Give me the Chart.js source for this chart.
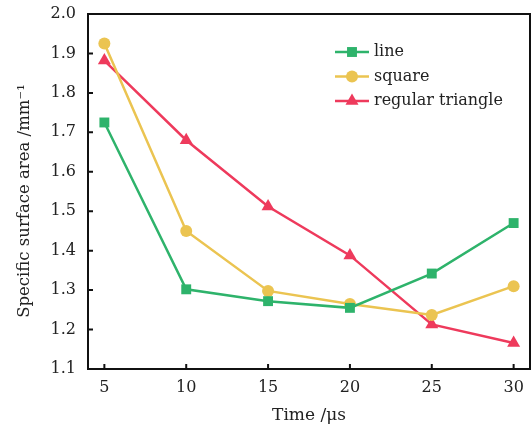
<!DOCTYPE html>
<html>
<head>
<meta charset="utf-8">
<script src="https://cdn.jsdelivr.net/npm/chart.js@4.4.0/dist/chart.umd.min.js"></script>
<style>
    html, body { margin: 0; padding: 0; background: #fff; }
    #wrap { width: 532px; height: 426px; }
</style>
</head>
<body>
<div id="wrap"><canvas id="areaChart" width="532" height="426"></canvas></div>
<script>
// --- Data ---
const times = [5, 10, 15, 20, 25, 30];
const lineValues = [1.725, 1.302, 1.272, 1.255, 1.342, 1.470];
const squareValues = [1.925, 1.450, 1.298, 1.265, 1.237, 1.310];
const triangleValues = [1.882, 1.680, 1.512, 1.388, 1.213, 1.166];
const seriesNames = ['line', 'square', 'regular triangle'];
const yTicks = [1.1, 1.2, 1.3, 1.4, 1.5, 1.6, 1.7, 1.8, 1.9, 2.0];
const yTitle = 'Specific surface area /mm⁻¹';

const GREEN = '#2eb36b';
const YELLOW = '#ebc451';
const RED = '#ee3a5c';
const FONT = "'DejaVu Serif', 'Liberation Serif', serif";

const toPoints = (vals) => times.map((t, i) => ({ x: t, y: vals[i] }));

// box + inward ticks + y title + legend inside chart area
const framePlugin = {
    id: 'frame',
    afterDraw: (chart) => {
        const { ctx, chartArea: a, scales } = chart;
        ctx.save();
        ctx.strokeStyle = '#111';
        ctx.lineWidth = 2;
        ctx.strokeRect(a.left, a.top, a.right - a.left, a.bottom - a.top);

        // ticks pointing into the plot
        ctx.beginPath();
        times.forEach(t => {
            const px = scales.x.getPixelForValue(t);
            ctx.moveTo(px, a.bottom);
            ctx.lineTo(px, a.bottom - 5);
        });
        yTicks.forEach(v => {
            const py = scales.y.getPixelForValue(v);
            ctx.moveTo(a.left, py);
            ctx.lineTo(a.left + 5, py);
        });
        ctx.stroke();

        // y title, sits a bit below the plot centre in the original
        ctx.save();
        ctx.translate(25, 201);
        ctx.rotate(-Math.PI / 2);
        ctx.fillStyle = '#222';
        ctx.font = '16.5px ' + FONT;
        ctx.textAlign = 'center';
        ctx.textBaseline = 'middle';
        ctx.fillText(yTitle, 0, 0);
        ctx.restore();

        // legend
        const lx = 335, ly = 52, gap = 24.5;
        chart.data.datasets.forEach((ds, i) => {
            const y = ly + i * gap;
            ctx.strokeStyle = ds.borderColor;
            ctx.lineWidth = 2.5;
            ctx.beginPath();
            ctx.moveTo(lx, y);
            ctx.lineTo(lx + 34, y);
            ctx.stroke();
            ctx.fillStyle = ds.backgroundColor;
            Chart.helpers.drawPoint(ctx, {
                pointStyle: ds.pointStyle,
                radius: ds.pointRadius,
                borderWidth: 0
            }, lx + 17, y);
            ctx.fillStyle = '#222';
            ctx.font = '16px ' + FONT;
            ctx.textAlign = 'left';
            ctx.textBaseline = 'middle';
            ctx.fillText(ds.label, lx + 39, y);
        });
        ctx.restore();
    }
};

new Chart(document.getElementById('areaChart'), {
    type: 'line',
    data: {
        datasets: [
            {
                label: seriesNames[0],
                data: toPoints(lineValues),
                borderColor: GREEN,
                backgroundColor: GREEN,
                pointStyle: 'rect',
                pointRadius: 7,
                pointBorderWidth: 0,
                borderWidth: 2.5
            },
            {
                label: seriesNames[1],
                data: toPoints(squareValues),
                borderColor: YELLOW,
                backgroundColor: YELLOW,
                pointStyle: 'circle',
                pointRadius: 6,
                pointBorderWidth: 0,
                borderWidth: 2.5
            },
            {
                label: seriesNames[2],
                data: toPoints(triangleValues),
                borderColor: RED,
                backgroundColor: RED,
                pointStyle: 'triangle',
                pointRadius: 7.5,
                pointBorderWidth: 0,
                borderWidth: 2.5
            }
        ]
    },
    plugins: [framePlugin],
    options: {
        responsive: false,
        animation: false,
        layout: { autoPadding: false, padding: { top: 14, right: 2, left: 0, bottom: 0 } },
        plugins: {
            legend: { display: false },
            tooltip: { enabled: false }
        },
        scales: {
            x: {
                type: 'linear',
                min: 4,
                max: 31,
                afterFit: (scale) => {
                    scale.height = 57;
                    scale.paddingLeft = 0;
                    scale.paddingRight = 0;
                },
                afterBuildTicks: (scale) => { scale.ticks = times.map(v => ({ value: v })); },
                grid: { display: false, drawTicks: false },
                border: { display: false },
                ticks: {
                    color: '#222',
                    font: { family: FONT, size: 16 },
                    padding: 9,
                    maxRotation: 0
                },
                title: {
                    display: true,
                    text: 'Time /μs',
                    color: '#222',
                    font: { family: FONT, size: 17 },
                    padding: { top: 1, bottom: 0 }
                }
            },
            y: {
                min: 1.1,
                max: 2.0,
                afterFit: (scale) => {
                    scale.width = 88;
                    scale.paddingTop = 0;
                    scale.paddingBottom = 0;
                },
                afterBuildTicks: (scale) => { scale.ticks = yTicks.map(v => ({ value: v })); },
                grid: { display: false, drawTicks: false },
                border: { display: false },
                ticks: {
                    color: '#222',
                    font: { family: FONT, size: 16 },
                    padding: 12,
                    callback: (v) => v.toFixed(1)
                }
            }
        }
    }
});
</script>
</body>
</html>
